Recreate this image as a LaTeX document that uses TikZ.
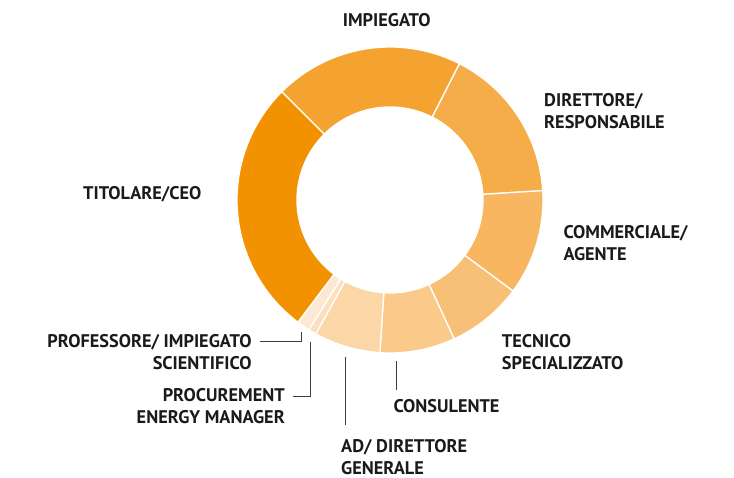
\documentclass[tikz,border=0pt]{standalone}
\usepackage{fontspec}
\usepackage{tikz}
\usetikzlibrary{calc,positioning}
\setmainfont{PT Sans}
\definecolor{titolare}{HTML}{F39200}
\definecolor{impiegato}{HTML}{F4A331}
\definecolor{direttore}{HTML}{F5AD49}
\definecolor{commerciale}{HTML}{F7B65F}
\definecolor{tecnico}{HTML}{F8C077}
\definecolor{consulente}{HTML}{F9CA8A}
\definecolor{addirettore}{HTML}{FBD6A6}
\definecolor{procurement}{HTML}{FCDFBD}
\definecolor{professore}{HTML}{FDE9D3}
\definecolor{labeltext}{HTML}{1A1A1A}
\definecolor{leaderline}{HTML}{3C3C3C}
\newcommand{\ringouter}{153}
\newcommand{\ringinner}{93}
\newcommand{\ringslice}[3]{%
    \filldraw[slicegap, fill=#3] ($(ring)+(#1:\ringouter)$) arc[start angle=#1, end angle=#2, radius=\ringouter]
        -- ($(ring)+(#2:\ringinner)$) arc[start angle=#2, end angle=#1, radius=\ringinner] -- cycle;
}

\begin{document}
\begin{tikzpicture}[
            x=1pt, y=1pt,
            slicegap/.style = {draw=white, line width=1.3pt},
            slicelabel/.style = {inner sep=0pt,
                text=labeltext,
                font=\fontsize{18.3}{22}\selectfont\bfseries,
            },
            leader/.style = {draw=leaderline, line width=0.8pt},
        ]
            \useasboundingbox (0,0) rectangle (734,-478);
            \coordinate (ring) at (390,-200);
            % slices, clockwise from the top
            \ringslice{135}{63}{impiegato}
            \ringslice{63}{3.5}{direttore}
            \ringslice{3.5}{-36.5}{commerciale}
            \ringslice{-36.5}{-65.2}{tecnico}
            \ringslice{-65.2}{-93.8}{consulente}
            \ringslice{-93.8}{-119}{addirettore}
            \ringslice{-119}{-122}{procurement}
            \ringslice{-122}{-127}{professore}
            \ringslice{-127}{-225}{titolare}
            % labels (base = last line)
            \node[slicelabel, anchor=base] (imp) at (386.7,-26.7) {IMPIEGATO};
            \node[slicelabel, anchor=base west, align=left] (dir) at (544,-128.3) {DIRETTORE/\\RESPONSABILE};
            \node[slicelabel, anchor=base west, align=left] (com) at (563.3,-261) {COMMERCIALE/\\AGENTE};
            \node[slicelabel, anchor=base west, align=left] (tec) at (501.7,-370) {TECNICO\\SPECIALIZZATO};
            \node[slicelabel, anchor=base west] (cons) at (393.3,-412.7) {CONSULENTE};
            \node[slicelabel, anchor=base west, align=left] (ad) at (341,-474) {AD/ DIRETTORE\\GENERALE};
            \node[slicelabel, anchor=base east, align=right] (proc) at (285,-424) {PROCUREMENT\\ENERGY MANAGER};
            \node[slicelabel, anchor=base east, align=right] (prof) at (251.7,-369.3) {PROFESSORE/ IMPIEGATO\\SCIENTIFICO};
            \node[slicelabel, anchor=base east] (tit) at (201.7,-200) {TITOLARE/CEO};
            % leader lines
            \coordinate (cons tip) at (396.7,-360.7);
            \coordinate (ad tip) at (345,-356.7);
            \coordinate (proc tip) at (310,-341.7);
            \coordinate (prof tip) at (301.7,-331.7);
            \draw[leader] (cons tip) -- ($(cons tip |- cons.north)+(0,9)$);
            \draw[leader] (ad tip) -- ($(ad tip |- ad.north)+(0,14)$);
            \draw[leader] ($(proc.north east)+(8,-7.5)$) -| (proc tip);
            \draw[leader] ($(prof.north east)+(8,-7.5)$) -| (prof tip);
        \end{tikzpicture}
\end{document}
